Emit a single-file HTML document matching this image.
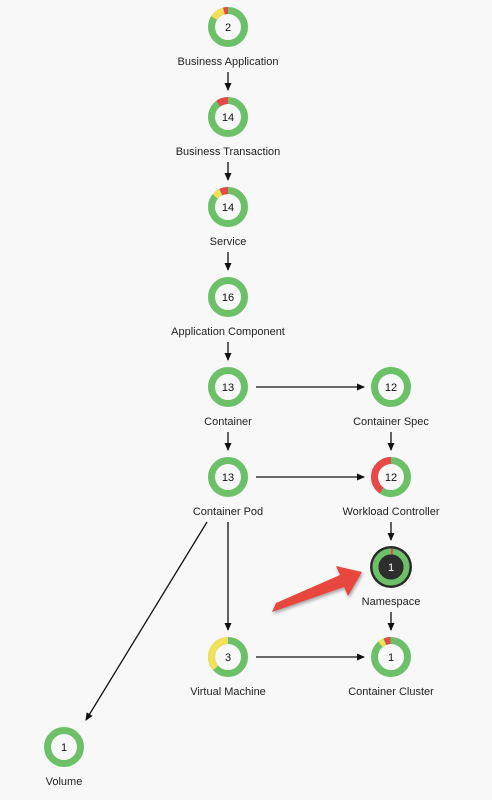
<!DOCTYPE html>
<html><head><meta charset="utf-8"><style>
body{margin:0;background:#f8f8f8;}
svg{display:block;font-family:"Liberation Sans",sans-serif;}
.l{font-size:11px;fill:#222;text-anchor:middle;}
.n{font-size:11px;fill:#111;text-anchor:middle;}
</style></head><body>
<svg width="492" height="800" viewBox="0 0 492 800">
<defs>
<marker id="a" markerWidth="8" markerHeight="8" refX="7" refY="4" orient="auto" markerUnits="userSpaceOnUse"><path d="M0,0.5 L8,4 L0,7.5z" fill="#111"/></marker>
<filter id="sh"><feDropShadow dx="1" dy="2" stdDeviation="1.5" flood-opacity="0.35"/></filter>
</defs>
<g stroke="#111" stroke-width="1.3" fill="none" marker-end="url(#a)">
<line x1="228" y1="72" x2="228" y2="90"/>
<line x1="228" y1="162" x2="228" y2="180"/>
<line x1="228" y1="252" x2="228" y2="270"/>
<line x1="228" y1="342" x2="228" y2="360"/>
<line x1="228" y1="432" x2="228" y2="450"/>
<line x1="391" y1="432" x2="391" y2="450"/>
<line x1="391" y1="522" x2="391" y2="540"/>
<line x1="391" y1="612" x2="391" y2="630"/>
<line x1="256" y1="387" x2="364" y2="387"/>
<line x1="256" y1="477" x2="364" y2="477"/>
<line x1="256" y1="657" x2="364" y2="657"/>
<line x1="228" y1="522" x2="228" y2="630"/>
<line x1="207" y1="522" x2="86" y2="720"/>
</g>
<g fill="none" stroke-width="7" transform="rotate(-90)">
</g>
<!-- donuts -->
<g fill="none" stroke-width="7">
<!-- helper: r=16.5 C=103.67 -->
<g transform="translate(228,27) rotate(-90)"><circle r="16.5" stroke="#6cc067"/><circle r="16.5" stroke="#f2e05a" stroke-dasharray="12.4 103.67" stroke-dashoffset="-87"/><circle r="16.5" stroke="#e84848" stroke-dasharray="4.3 103.67" stroke-dashoffset="-99.4"/></g>
<g transform="translate(228,117) rotate(-90)"><circle r="16.5" stroke="#6cc067"/><circle r="16.5" stroke="#e84848" stroke-dasharray="10.5 103.67" stroke-dashoffset="-93.2"/></g>
<g transform="translate(228,207) rotate(-90)"><circle r="16.5" stroke="#6cc067"/><circle r="16.5" stroke="#f2e05a" stroke-dasharray="7 103.67" stroke-dashoffset="-89"/><circle r="16.5" stroke="#e84848" stroke-dasharray="7.5 103.67" stroke-dashoffset="-96.2"/></g>
<g transform="translate(228,297)"><circle r="16.5" stroke="#6cc067"/></g>
<g transform="translate(228,387)"><circle r="16.5" stroke="#6cc067"/></g>
<g transform="translate(391,387)"><circle r="16.5" stroke="#6cc067"/></g>
<g transform="translate(228,477)"><circle r="16.5" stroke="#6cc067"/></g>
<g transform="translate(391,477) rotate(-90)"><circle r="16.5" stroke="#6cc067"/><circle r="16.5" stroke="#e84848" stroke-dasharray="42 103.67" stroke-dashoffset="-61.67"/></g>
<g transform="translate(228,657) rotate(-90)"><circle r="16.5" stroke="#6cc067"/><circle r="16.5" stroke="#f2e05a" stroke-dasharray="38 103.67" stroke-dashoffset="-65.67"/></g>
<g transform="translate(391,657) rotate(-90)"><circle r="16.5" stroke="#6cc067"/><circle r="16.5" stroke="#f2e05a" stroke-dasharray="5 103.67" stroke-dashoffset="-92"/><circle r="16.5" stroke="#e84848" stroke-dasharray="5.5 103.67" stroke-dashoffset="-97.5"/></g>
<g transform="translate(64,747)"><circle r="16.5" stroke="#6cc067"/></g>
</g>
<!-- namespace -->
<g transform="translate(391,567)">
<circle r="21" fill="#2a2a2a"/>
<g transform="rotate(-90)" fill="none" stroke-width="6"><circle r="15.5" stroke="#6cc067"/><circle r="15.5" stroke="#e84848" stroke-dasharray="4 97.4" stroke-dashoffset="2"/></g>
<circle r="12.5" fill="#2d2d2d"/>
<text y="4" class="n" fill="#fff" style="fill:#fff">1</text>
</g>
<g class="n">
<text x="228" y="31" class="n">2</text>
<text x="228" y="121" class="n">14</text>
<text x="228" y="211" class="n">14</text>
<text x="228" y="301" class="n">16</text>
<text x="228" y="391" class="n">13</text>
<text x="391" y="391" class="n">12</text>
<text x="228" y="481" class="n">13</text>
<text x="391" y="481" class="n">12</text>
<text x="228" y="661" class="n">3</text>
<text x="391" y="661" class="n">1</text>
<text x="64" y="751" class="n">1</text>
</g>
<text x="228" y="65" class="l">Business Application</text>
<text x="228" y="155" class="l">Business Transaction</text>
<text x="228" y="245" class="l">Service</text>
<text x="228" y="335" class="l">Application Component</text>
<text x="228" y="425" class="l">Container</text>
<text x="391" y="425" class="l">Container Spec</text>
<text x="228" y="515" class="l">Container Pod</text>
<text x="391" y="515" class="l">Workload Controller</text>
<text x="391" y="605" class="l">Namespace</text>
<text x="228" y="695" class="l">Virtual Machine</text>
<text x="391" y="695" class="l">Container Cluster</text>
<text x="64" y="785" class="l">Volume</text>
<!-- red arrow -->
<g filter="url(#sh)">
<path d="M276,603 L272,612 L344,587 L348,596 L362,572 L336,566 L340,575 Z" fill="#e8463c"/>
</g>
</svg>
</body></html>
